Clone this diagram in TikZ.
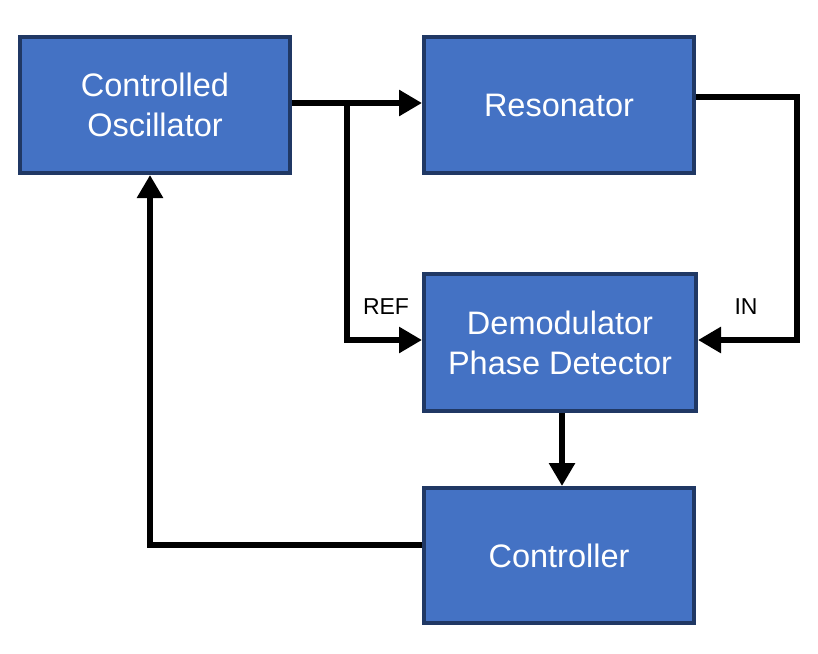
\documentclass[tikz,border=0pt]{standalone}
\usepackage{fontspec}
\setmainfont{Liberation Sans}
\usetikzlibrary{arrows.meta}
\definecolor{boxfill}{HTML}{4472C4}
\definecolor{boxline}{HTML}{203864}
\begin{document}
\begin{tikzpicture}[x=1pt,y=-1pt,
  blk/.style={draw=boxline, fill=boxfill, line width=4pt, minimum width=270pt, minimum height=136pt,
    text=white, align=center, font=\fontsize{32.5}{40}\selectfont, inner sep=0pt},
  conn/.style={draw=black, line width=6.5pt, line join=miter, -{Triangle[width=25pt,length=23pt]}},
  lbl/.style={font=\fontsize{23}{28}\selectfont, text=black, inner sep=0pt}]
\useasboundingbox (0,0) rectangle (818,653);
\node[blk] (co) at (155,105) {Controlled\\Oscillator};
\node[blk] (res) at (559,105) {Resonator};
\node[blk, minimum width=272pt, minimum height=137pt] (dem) at (560,342.5) {Demodulator\\Phase Detector};
\node[blk, minimum height=135pt] (ctl) at (559,555.5) {Controller};
\coordinate (j) at (347,103);
\draw[conn] (co.east |- j) -- (res.west |- j);
\draw[conn] (j) -- (347,340) -- (dem.west |- 0,340);
\draw[conn] (res.east |- 0,97) -- (797,97) -- (797,340) -- (dem.east |- 0,340);
\draw[conn] (dem.south -| 562,0) -- (ctl.north -| 562,0);
\draw[conn] (ctl.west |- 0,545) -- (150,545) -- (co.south -| 150,0);
\node[lbl] (ref) at (386,307) {REF};
\node[lbl] (in) at (746,307) {IN};
\end{tikzpicture}
\end{document}
